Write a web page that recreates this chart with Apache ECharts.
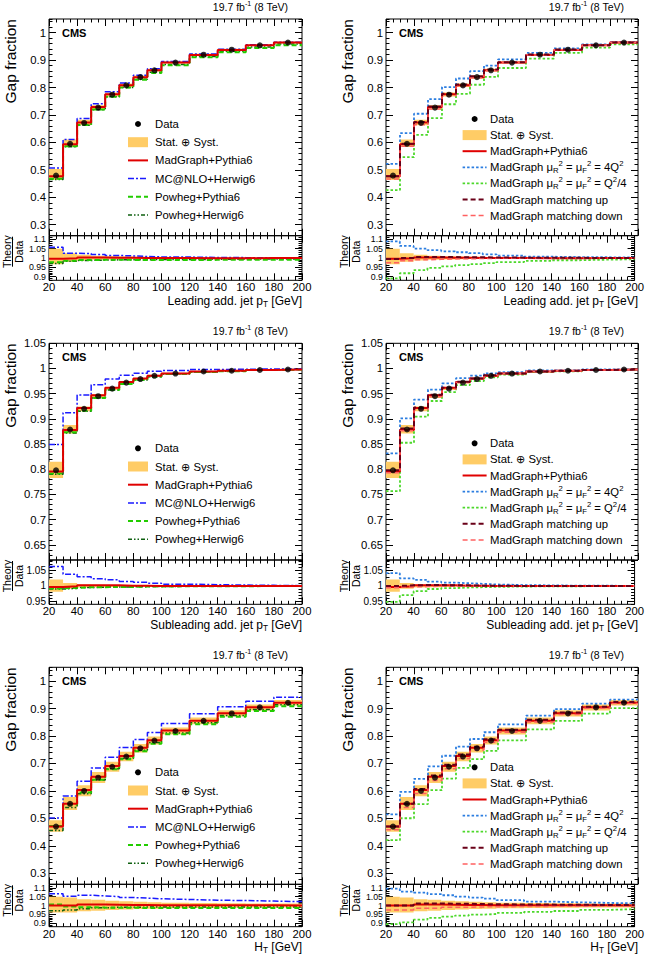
<!DOCTYPE html>
<html><head><meta charset="utf-8">
<script src="https://cdn.jsdelivr.net/npm/echarts@6/dist/echarts.min.js"></script>
<style>html,body{margin:0;padding:0;background:#fff}#c{width:647px;height:955px}</style>
</head><body><div id="c"></div>
<script>
// ---------------- data ----------------
const binEdges = [20,30,40,50,60,70,80,90,100,120,140,160,180,200];
const xTickLabels = [20,40,60,80,100,120,140,160,180,200];
const gapTicksWide = [0.3,0.4,0.5,0.6,0.7,0.8,0.9,1];
const gapTicksNarrow = [0.65,0.7,0.75,0.8,0.85,0.9,0.95,1,1.05];
const ratioTicksWide = [0.9,0.95,1,1.05,1.1];
const ratioTicksNarrow = [0.95,1,1.05];

// Leading additional jet pT
const leadData   = [0.479,0.595,0.671,0.727,0.774,0.808,0.838,0.863,0.891,0.920,0.938,0.954,0.964];
const leadErrUp  = [0.050,0.026,0.017,0.012,0.010,0.008,0.007,0.006,0.005,0.004,0.004,0.003,0.003];
const leadErrDn  = [0.033,0.020,0.013,0.010,0.008,0.007,0.006,0.005,0.004,0.004,0.003,0.003,0.003];
// Theory / Data ratios
const leadMG      = [0.996,0.998,1.003,1.003,1.002,1.001,1.000,1.000,1.000,0.999,0.999,1.000,1.000];
const leadMCNLO   = [1.058,1.026,1.024,1.019,1.014,1.011,1.008,1.006,1.005,1.003,1.002,1.002,1.001];
const leadPowPy   = [0.977,0.985,0.989,0.990,0.990,0.990,0.989,0.989,0.989,0.990,0.990,0.990,0.990];
const leadPowHw   = [0.970,0.982,0.987,0.989,0.990,0.991,0.991,0.992,0.992,0.993,0.994,0.994,0.995];
const leadScaleUp = [1.089,1.065,1.050,1.042,1.036,1.031,1.026,1.020,1.013,1.007,1.005,1.004,1.003];
const leadScaleDn = [0.890,0.918,0.935,0.947,0.955,0.962,0.967,0.972,0.978,0.984,0.988,0.991,0.993];
const leadMatchUp = [0.995,1.000,1.005,1.006,1.005,1.004,1.004,1.003,1.002,1.001,1.001,1.000,1.000];
const leadMatchDn = [0.975,0.985,0.990,0.993,0.995,0.996,0.997,0.998,0.999,0.999,1.000,1.000,1.000];

// Subleading additional jet pT
const subData   = [0.798,0.879,0.920,0.945,0.960,0.972,0.979,0.9855,0.990,0.994,0.9955,0.997,0.998];
const subErrUp  = [0.021,0.010,0.005,0.004,0.003,0.002,0.002,0.002,0.0015,0.001,0.001,0.001,0.001];
const subErrDn  = [0.019,0.009,0.005,0.004,0.003,0.002,0.002,0.002,0.0015,0.001,0.001,0.001,0.001];
const subMG      = [0.997,0.999,1.002,1.002,1.002,1.001,1.001,1.000,1.000,1.000,1.000,1.000,1.000];
const subMCNLO   = [1.064,1.038,1.030,1.024,1.020,1.015,1.012,1.009,1.006,1.004,1.003,1.002,1.001];
const subPowPy   = [0.992,0.994,0.996,0.996,0.997,0.997,0.998,0.998,0.999,0.999,0.999,1.000,1.000];
const subPowHw   = [0.990,0.992,0.995,0.996,0.997,0.997,0.998,0.998,0.999,0.999,0.999,1.000,1.000];
const subScaleUp = [1.042,1.025,1.020,1.014,1.011,1.009,1.007,1.005,1.003,1.002,1.001,1.001,1.000];
const subScaleDn = [0.948,0.970,0.983,0.990,0.993,0.995,0.996,0.997,0.998,0.999,0.999,1.000,1.000];
const subMatchUp = [1.000,1.002,1.003,1.003,1.002,1.002,1.001,1.001,1.000,1.000,1.000,1.000,1.000];
const subMatchDn = [0.994,0.997,0.998,0.999,0.999,1.000,1.000,1.000,1.000,1.000,1.000,1.000,1.000];

// H_T
const htData   = [0.470,0.553,0.600,0.648,0.688,0.725,0.755,0.783,0.818,0.855,0.882,0.904,0.921];
const htErrUp  = [0.050,0.045,0.035,0.032,0.027,0.024,0.021,0.019,0.016,0.014,0.013,0.012,0.011];
const htErrDn  = [0.040,0.040,0.033,0.030,0.026,0.023,0.020,0.018,0.016,0.014,0.013,0.012,0.011];
const htMG      = [1.000,1.000,1.005,1.005,1.004,1.003,1.003,1.002,1.002,1.001,1.001,1.001,1.000];
const htMCNLO   = [1.066,1.052,1.058,1.054,1.050,1.045,1.042,1.038,1.034,1.030,1.028,1.025,1.022];
const htPowPy   = [1.005,0.995,0.990,0.988,0.987,0.987,0.986,0.986,0.986,0.986,0.986,0.986,0.986];
const htPowHw   = [0.970,0.975,0.982,0.987,0.990,0.990,0.991,0.991,0.991,0.992,0.992,0.992,0.992];
const htScaleUp = [1.095,1.078,1.073,1.064,1.058,1.050,1.045,1.039,1.030,1.022,1.018,1.015,1.012];
const htScaleDn = [0.895,0.905,0.920,0.930,0.937,0.943,0.948,0.952,0.958,0.964,0.969,0.975,0.979];
const htMatchUp = [1.000,1.000,1.012,1.012,1.010,1.010,1.008,1.007,1.006,1.005,1.004,1.003,1.003];
const htMatchDn = [0.975,0.975,0.985,0.985,0.990,0.990,0.992,0.993,0.994,0.995,0.996,0.997,0.997];

// ---------------- styles / layout ----------------
const FONT = 'Liberation Sans, Arial, Helvetica, sans-serif';
const BAND = '#ffcc66';
const MU = 'MadGraph μ{sub|R}{sup|2} = μ{sub|F}{sup|2} = ';
const curveStyle = {
  mg:      {name:'MadGraph+Pythia6', label:'MadGraph+Pythia6', color:'#e00000', width:2,   type:'solid'},
  mcnlo:   {name:'MC@NLO+Herwig6',   label:'MC@NLO+Herwig6',   color:'#1a1aff', width:1.5, type:[6,2,2,2]},
  powpy:   {name:'Powheg+Pythia6',   label:'Powheg+Pythia6',   color:'#22cc00', width:2,   type:[5,3]},
  powhw:   {name:'Powheg+Herwig6',   label:'Powheg+Herwig6',   color:'#0f6010', width:1.5, type:[4,2,1.5,2,1.5,2]},
  scaleUp: {name:'MadGraph μR² = μF² = 4Q²', label:MU+'4Q{sup|2}',   color:'#2b7de0', width:1.8, type:[2.5,2]},
  scaleDn: {name:'MadGraph μR² = μF² = Q²/4', label:MU+'Q{sup|2}/4', color:'#4cd82a', width:1.8, type:[2.5,2]},
  matchUp: {name:'MadGraph matching up',   label:'MadGraph matching up',   color:'#6a0018', width:2,   type:[5,3]},
  matchDn: {name:'MadGraph matching down', label:'MadGraph matching down', color:'#ff6060', width:1.5, type:[5,3]}
};
const colLeft = [49, 386], colWidth = [253, 252];
const rowTop = [19, 343.3, 667.3], mainH = [216.7, 216.7, 217], ratioH = [44.6, 44.3, 42.4];
const ratioFont = [8.8, 10, 8.8];

const panels = [
  {row:0,col:0,set:'gen',data:leadData,up:leadErrUp,dn:leadErrDn,
   curves:{powhw:leadPowHw,powpy:leadPowPy,mcnlo:leadMCNLO,mg:leadMG},
   xTitle:'Leading add. jet p{sub|T} [GeV]',yMain:[0.26,1.05],mainTicks:gapTicksWide,mainMinor:0.02,yRatio:[0.88,1.12],ratioTicks:ratioTicksWide},
  {row:0,col:1,set:'var',data:leadData,up:leadErrUp,dn:leadErrDn,
   curves:{scaleUp:leadScaleUp,scaleDn:leadScaleDn,mg:leadMG,matchDn:leadMatchDn,matchUp:leadMatchUp},
   xTitle:'Leading add. jet p{sub|T} [GeV]',yMain:[0.26,1.05],mainTicks:gapTicksWide,mainMinor:0.02,yRatio:[0.88,1.12],ratioTicks:ratioTicksWide},
  {row:1,col:0,set:'gen',data:subData,up:subErrUp,dn:subErrDn,
   curves:{powhw:subPowHw,powpy:subPowPy,mcnlo:subMCNLO,mg:subMG},
   xTitle:'Subleading add. jet p{sub|T} [GeV]',yMain:[0.62,1.05],mainTicks:gapTicksNarrow,mainMinor:0.01,yRatio:[0.94,1.085],ratioTicks:ratioTicksNarrow},
  {row:1,col:1,set:'var',data:subData,up:subErrUp,dn:subErrDn,
   curves:{scaleUp:subScaleUp,scaleDn:subScaleDn,mg:subMG,matchDn:subMatchDn,matchUp:subMatchUp},
   xTitle:'Subleading add. jet p{sub|T} [GeV]',yMain:[0.62,1.05],mainTicks:gapTicksNarrow,mainMinor:0.01,yRatio:[0.94,1.085],ratioTicks:ratioTicksNarrow},
  {row:2,col:0,set:'gen',data:htData,up:htErrUp,dn:htErrDn,
   curves:{powhw:htPowHw,powpy:htPowPy,mcnlo:htMCNLO,mg:htMG},
   xTitle:'H{sub|T} [GeV]',yMain:[0.26,1.05],mainTicks:gapTicksWide,mainMinor:0.02,yRatio:[0.88,1.12],ratioTicks:ratioTicksWide},
  {row:2,col:1,set:'var',data:htData,up:htErrUp,dn:htErrDn,
   curves:{scaleUp:htScaleUp,scaleDn:htScaleDn,mg:htMG,matchDn:htMatchDn,matchUp:htMatchUp},
   xTitle:'H{sub|T} [GeV]',yMain:[0.26,1.05],mainTicks:gapTicksWide,mainMinor:0.02,yRatio:[0.88,1.12],ratioTicks:ratioTicksWide}
];

const option = {animation:false, backgroundColor:'#fff', grid:[], xAxis:[], yAxis:[], series:[], graphic:{elements:[]}};
const G = option.graphic.elements;
const fmt = v => String(+(+v).toFixed(3));

function richStyles(fs, lh) {
  const s = Math.round(fs*0.68*10)/10;
  const tl = Math.max(6, Math.round(lh*0.55));
  return {
    sup: {fontSize:s, fontFamily:FONT, fill:'#000', verticalAlign:'top', lineHeight:tl},
    sub: {fontSize:s, fontFamily:FONT, fill:'#000', verticalAlign:'bottom', lineHeight:tl}
  };
}
function txt(x, y, text, opt) {
  opt = opt || {};
  const fs = opt.fontSize || 11.3;
  const lh = opt.lineHeight || Math.round(fs*1.3);
  return {type:'text', x, y, rotation:opt.rotation||0, silent:true,
    style:{text, fontSize:fs, fontFamily:FONT, fontWeight:opt.bold?'bold':'normal', fill:'#000',
      align:opt.align||'left', verticalAlign:'middle', lineHeight:lh, rich:richStyles(fs, lh)}};
}

function addX(g, labels) {
  const base = {type:'value', gridIndex:g, min:20, max:200, interval:20,
    axisLine:{show:false, onZero:false}, splitLine:{show:false},
    axisTick:{show:true, inside:true, length:7, customValues:xTickLabels, lineStyle:{color:'#000', width:1}},
    minorTick:{show:true, splitNumber:4, length:3.5, lineStyle:{color:'#000', width:1}}};
  const idx = option.xAxis.length;
  option.xAxis.push(Object.assign({}, base, {position:'bottom',
    axisLabel: labels ? {show:true, customValues:xTickLabels, color:'#000', fontSize:11.3, fontFamily:FONT, margin:1.5,
      showMinLabel:true, showMaxLabel:true, hideOverlap:false} : {show:false}}));
  option.xAxis.push(Object.assign({}, base, {position:'top', axisLabel:{show:false}}));
  return idx;
}
function addY(g, range, ticks, minorStep, fontSize) {
  const idx = option.yAxis.length;
  const common = {type:'value', gridIndex:g, min:range[0], max:range[1],
    axisLine:{show:false, onZero:false}, splitLine:{show:false}};
  const major = (pos, lab) => Object.assign({}, common, {position:pos,
    axisTick:{show:true, inside:true, length:7, customValues:ticks, lineStyle:{color:'#000', width:1}},
    axisLabel: lab ? {show:true, customValues:ticks, formatter:fmt, color:'#000', fontSize, fontFamily:FONT, margin:3,
      showMinLabel:true, showMaxLabel:true, hideOverlap:false, lineHeight:Math.round(fontSize)} : {show:false}});
  const minor = pos => Object.assign({}, common, {position:pos, interval:minorStep,
    axisTick:{show:true, inside:true, length:3.5, lineStyle:{color:'#000', width:1}}, axisLabel:{show:false}});
  option.yAxis.push(major('left', true), minor('left'), major('right', false), minor('right'));
  return idx;
}
function bandItem(params, api) {
  const a = api.coord([api.value(0), api.value(3)]);
  const b = api.coord([api.value(1), api.value(2)]);
  return {type:'rect', shape:{x:a[0], y:a[1], width:b[0]-a[0], height:b[1]-a[1]}, style:{fill:BAND}};
}
function stepData(vals) {
  return binEdges.map((e, i) => [e, vals[Math.min(i, vals.length-1)]]);
}

panels.forEach(p => {
  const L = colLeft[p.col], W = colWidth[p.col], T = rowTop[p.row], H = mainH[p.row], RH = ratioH[p.row];
  const gMain = option.grid.length, gRat = gMain + 1;
  const gridBase = {show:true, borderColor:'#000', borderWidth:1, backgroundColor:'transparent', containLabel:false};
  option.grid.push(Object.assign({left:L, top:T, width:W, height:H}, gridBase));
  option.grid.push(Object.assign({left:L, top:T+H, width:W, height:RH}, gridBase));
  const xm = addX(gMain, false), xr = addX(gRat, true);
  const ym = addY(gMain, p.yMain, p.mainTicks, p.mainMinor, 11.3);
  const yr = addY(gRat, p.yRatio, p.ratioTicks, 0.01, ratioFont[p.row]);

  // uncertainty bands
  option.series.push({type:'custom', name:'Stat. ⊕ Syst.', xAxisIndex:xm, yAxisIndex:ym, clip:true, z:1, silent:true,
    renderItem:bandItem, encode:{x:[0,1], y:[2,3]},
    data:p.data.map((v,i)=>[binEdges[i], binEdges[i+1], v*(1-p.dn[i]), v*(1+p.up[i])])});
  option.series.push({type:'custom', name:'Stat. ⊕ Syst.', xAxisIndex:xr, yAxisIndex:yr, clip:true, z:1, silent:true,
    renderItem:bandItem, encode:{x:[0,1], y:[2,3]},
    data:p.data.map((v,i)=>[binEdges[i], binEdges[i+1], 1-p.dn[i], 1+p.up[i]])});

  // theory curves (main: theory = data * ratio; ratio panel: theory/data)
  Object.keys(p.curves).forEach(k => {
    const s = curveStyle[k], r = p.curves[k];
    const ls = {color:s.color, width:s.width, type:s.type, cap:'butt'};
    option.series.push({type:'line', name:s.name, step:'end', symbol:'none', clip:true, z:3, silent:true,
      xAxisIndex:xm, yAxisIndex:ym, lineStyle:ls, data:stepData(p.data.map((v,i)=>v*r[i]))});
    option.series.push({type:'line', name:s.name, step:'end', symbol:'none', clip:true, z:3, silent:true,
      xAxisIndex:xr, yAxisIndex:yr, lineStyle:ls, data:stepData(r)});
  });

  // data points
  option.series.push({type:'scatter', name:'Data', xAxisIndex:xm, yAxisIndex:ym, z:5, silent:true,
    symbol:'circle', symbolSize:6, itemStyle:{color:'#000'},
    data:p.data.map((v,i)=>[(binEdges[i]+binEdges[i+1])/2, v])});

  // texts
  G.push(txt(L+13, T+14, 'CMS', {bold:true, fontSize:11}));
  G.push(txt(L+W-14, T-12, '19.7 fb{sup|-1} (8 TeV)', {align:'right', fontSize:10.5, lineHeight:14}));
  G.push(txt(L-38.5, T, 'Gap fraction', {align:'right', rotation:Math.PI/2, fontSize:15.5}));
  G.push(txt(L+W, T+H+RH+20.5, p.xTitle, {align:'right', fontSize:12, lineHeight:15}));
  // ratio axis title: Theory / Data fraction
  G.push({type:'group', x:L-36.5, y:T+H+16, rotation:Math.PI/2, silent:true, children:[
    {type:'text', x:0, y:-6, style:{text:'Theory', fontSize:10.5, fontFamily:FONT, fill:'#000', align:'center', verticalAlign:'middle'}},
    {type:'line', shape:{x1:-15, y1:0, x2:15, y2:0}, style:{stroke:'#000', lineWidth:1}},
    {type:'text', x:0, y:6, style:{text:'Data', fontSize:10.5, fontFamily:FONT, fill:'#000', align:'center', verticalAlign:'middle'}}
  ]});

  // legend
  const gen = p.set === 'gen';
  const keys = gen ? ['mg','mcnlo','powpy','powhw'] : ['mg','scaleUp','scaleDn','matchUp','matchDn'];
  const x1 = L + (gen ? 79 : 76.6), x2 = L + (gen ? 99 : 100.6), tx = L + (gen ? 106 : 104);
  const y0 = T + (gen ? 105 : 100), dy = gen ? 18.2 : 16.1;
  G.push({type:'circle', silent:true, shape:{cx:(x1+x2)/2, cy:y0, r:3}, style:{fill:'#000'}});
  G.push(txt(tx, y0, 'Data'));
  G.push({type:'rect', silent:true, shape:{x:x1, y:y0+dy-5, width:x2-x1, height:10}, style:{fill:BAND}});
  G.push(txt(tx, y0+dy, 'Stat. ⊕ Syst.'));
  keys.forEach((k, i) => {
    const s = curveStyle[k], y = y0 + dy*(i+2);
    G.push({type:'line', silent:true, shape:{x1, y1:y, x2, y2:y},
      style:{stroke:s.color, lineWidth:s.width, lineDash:Array.isArray(s.type)?s.type:null}});
    G.push(txt(tx, y, s.label, {lineHeight:15}));
  });
});

const chart = echarts.init(document.getElementById('c'), null, {renderer:'svg', width:647, height:955});
chart.setOption(option);
</script></body></html>
